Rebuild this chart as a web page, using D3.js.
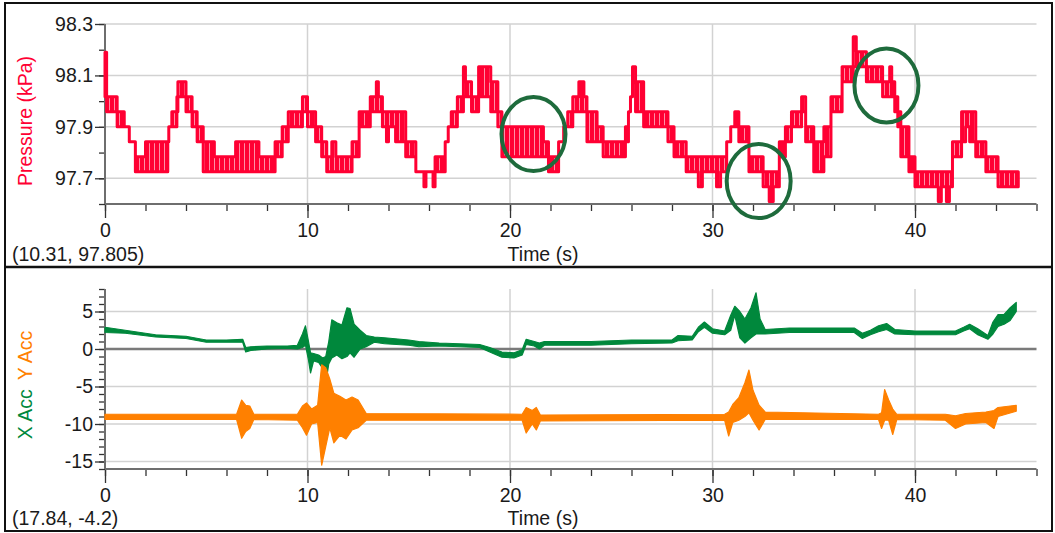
<!DOCTYPE html>
<html>
<head>
<meta charset="utf-8">
<script src="https://cdn.jsdelivr.net/npm/d3@7"></script>
<style>
  body { margin: 0; background: #fff; }
  svg { display: block; font-family: "Liberation Sans", Arial, sans-serif; }
</style>
</head>
<body>
<script>
// tick labels
let timeTicks = [0, 10, 20, 30, 40];
let pressureTicks = [97.7, 97.9, 98.1, 98.3];
let accTicks = [-15, -10, -5, 0, 5];

// pressure (kPa), envelope of the jittering trace, value held until next time
let pressureTime = [0.00, 0.08, 0.60, 0.95, 1.20, 1.50, 2.00, 3.10, 3.15, 3.30, 3.55, 3.60, 4.00, 4.30, 4.55, 4.85, 5.40, 6.45, 7.60, 8.40,
  8.75, 9.05, 9.75, 10.00, 10.40, 10.70, 10.95, 11.20, 11.40, 12.20, 12.55, 13.10, 13.40, 13.50, 13.70, 13.90, 14.00, 14.35, 14.85, 15.35,
  15.75, 15.85, 16.20, 16.30, 16.80, 16.95, 17.10, 17.40, 17.70, 17.80, 18.10, 18.45, 19.05, 19.40, 19.60, 21.65, 21.90, 22.40, 22.65, 22.85,
  23.10, 23.40, 23.65, 23.80, 24.30, 24.60, 25.70, 25.85, 25.95, 26.05, 26.20, 26.60, 27.80, 28.10, 28.70, 29.30, 29.50, 30.20, 30.40, 30.70,
  30.90, 31.10, 31.30, 31.80, 32.50, 32.80, 33.00, 33.30, 33.60, 33.90, 34.40, 34.60, 35.00, 35.50, 35.85, 36.40, 36.95, 37.10, 37.60, 38.40,
  38.75, 38.85, 39.00, 39.15, 39.30, 39.70, 40.00, 41.15, 41.30, 41.55, 41.70, 41.85, 42.30, 42.50, 42.70, 43.00, 43.50, 44.10, 45.10];
let pressureLow = [98.017, 97.959, 97.900, 97.900, 97.842, 97.725, 97.725, 97.842, 97.900, 97.900, 97.959, 98.017, 97.959, 97.900, 97.842, 97.725, 97.725, 97.725, 97.725, 97.784,
  97.842, 97.900, 97.959, 97.900, 97.842, 97.784, 97.725, 97.725, 97.725, 97.784, 97.900, 97.959, 97.959, 97.959, 97.900, 97.842, 97.900, 97.842, 97.784, 97.725,
  97.667, 97.725, 97.667, 97.725, 97.842, 97.900, 97.900, 97.959, 98.017, 98.017, 97.959, 98.017, 97.959, 97.900, 97.784, 97.784, 97.725, 97.842, 97.900, 97.900,
  97.959, 97.959, 97.959, 97.842, 97.842, 97.784, 97.842, 97.959, 98.017, 98.075, 97.959, 97.900, 97.842, 97.784, 97.725, 97.667, 97.725, 97.667, 97.725, 97.842,
  97.900, 97.900, 97.842, 97.725, 97.667, 97.610, 97.667, 97.784, 97.842, 97.900, 97.959, 97.842, 97.725, 97.784, 97.959, 98.075, 98.134, 98.134, 98.075, 98.017,
  98.017, 98.017, 97.959, 97.900, 97.784, 97.725, 97.667, 97.610, 97.667, 97.610, 97.667, 97.784, 97.842, 97.900, 97.842, 97.784, 97.725, 97.667, 97.667];
let pressureHigh = [98.190, 98.017, 97.959, 97.900, 97.842, 97.784, 97.842, 97.842, 97.900, 97.959, 98.017, 98.075, 98.017, 97.959, 97.900, 97.842, 97.784, 97.842, 97.784, 97.842,
  97.900, 97.959, 98.017, 97.959, 97.900, 97.842, 97.784, 97.842, 97.784, 97.842, 97.959, 98.017, 98.075, 98.017, 97.959, 97.959, 97.959, 97.959, 97.842, 97.725,
  97.725, 97.725, 97.725, 97.784, 97.842, 97.900, 97.959, 98.017, 98.134, 98.075, 98.017, 98.134, 98.075, 97.959, 97.900, 97.842, 97.784, 97.842, 97.900, 97.959,
  98.017, 98.075, 98.017, 97.959, 97.900, 97.842, 97.900, 97.959, 98.017, 98.134, 98.075, 97.959, 97.900, 97.842, 97.784, 97.784, 97.784, 97.784, 97.784, 97.842,
  97.900, 97.959, 97.900, 97.784, 97.725, 97.725, 97.725, 97.842, 97.900, 97.959, 98.017, 97.900, 97.842, 97.900, 98.017, 98.134, 98.250, 98.192, 98.134, 98.075,
  98.134, 98.075, 98.017, 97.959, 97.900, 97.784, 97.725, 97.725, 97.725, 97.725, 97.725, 97.842, 97.959, 97.959, 97.959, 97.842, 97.784, 97.725, 97.725];

// X acceleration (m/s2), envelope
let accXTime = [0.0, 1.0, 2.5, 4.0, 5.0, 6.0, 6.8, 6.95, 7.2, 8.0, 9.0, 9.5, 9.75, 9.9, 10.05, 10.15, 10.3, 10.55, 10.75, 10.9,
  11.05, 11.2, 11.45, 11.7, 11.95, 12.1, 12.3, 12.6, 12.9, 13.3, 13.8, 15.0, 15.5, 16.5, 17.5, 18.5, 19.0, 19.6, 20.2, 20.6,
  20.8, 21.2, 21.45, 21.7, 24.0, 26.0, 28.0, 28.3, 29.0, 29.3, 29.6, 30.0, 30.6, 30.9, 31.1, 31.35, 31.6, 31.9, 32.15, 32.35,
  32.6, 33.8, 37.0, 37.4, 37.8, 38.2, 38.6, 39.0, 40.0, 42.0, 42.4, 42.7, 43.1, 43.6, 43.85, 44.1, 44.4, 44.7, 45.0];
let accXLow = [2.2, 2.1, 1.6, 1.4, 0.9, 0.9, 0.9, -0.4, -0.2, 0.0, 0.1, 0.0, 0.2, 0.5, -1.5, -3.2, -1.6, -1.8, -2.6, -4.6,
  -2.0, -1.2, -0.8, -1.3, -1.0, -0.5, -1.1, 0.0, 0.3, 0.9, 0.7, 0.5, 0.3, 0.4, 0.3, 0.2, -0.4, -1.1, -1.2, -0.8,
  0.6, 0.4, 0.0, 0.5, 0.5, 0.7, 0.8, 1.1, 1.2, 2.3, 2.9, 2.1, 1.9, 2.5, 4.5, 1.5, 0.8, 1.5, 2.0, 2.0,
  2.0, 2.2, 2.2, 1.4, 1.9, 2.3, 2.6, 2.0, 1.9, 1.9, 2.4, 2.7, 1.9, 1.3, 2.0, 3.0, 3.3, 3.8, 5.0];
let accXHigh = [2.9, 2.5, 1.9, 1.7, 1.2, 1.2, 1.3, 0.2, 0.3, 0.4, 0.4, 0.5, 2.0, 3.1, 1.0, -0.5, -0.6, -0.8, -1.2, -1.0,
  1.0, 3.9, 3.5, 3.2, 5.5, 5.4, 3.3, 2.5, 1.8, 1.6, 1.5, 1.2, 1.0, 0.8, 0.7, 0.6, 0.2, -0.4, -0.5, -0.1,
  1.3, 1.0, 0.8, 1.0, 1.0, 1.2, 1.2, 1.8, 1.7, 2.9, 3.6, 2.7, 2.4, 4.5, 5.7, 5.0, 4.0, 5.5, 7.5, 4.0,
  2.6, 2.8, 2.8, 2.1, 2.5, 3.1, 3.4, 2.6, 2.4, 2.4, 2.9, 3.3, 2.7, 1.8, 3.6, 4.6, 4.6, 5.5, 6.2];

// Y acceleration (m/s2), envelope
let accYTime = [0.0, 6.5, 6.75, 6.95, 7.15, 7.35, 9.5, 9.75, 9.95, 10.2, 10.5, 10.7, 10.9, 11.1, 11.3, 11.6, 11.9, 12.2, 12.5, 12.9,
  20.6, 20.8, 21.1, 21.3, 21.5, 30.6, 30.8, 31.0, 31.3, 31.6, 31.8, 32.0, 32.3, 32.6, 38.2, 38.35, 38.5, 38.7, 38.9, 39.1,
  41.5, 42.0, 42.5, 43.5, 43.9, 44.1, 45.0];
let accYLow = [-9.4, -9.4, -11.9, -11.0, -10.6, -9.4, -9.5, -10.5, -11.5, -10.0, -9.8, -15.5, -13.0, -10.5, -12.5, -11.5, -12.0, -10.8, -10.5, -9.5,
  -9.5, -11.2, -10.0, -10.8, -9.6, -9.5, -11.6, -9.8, -9.5, -9.0, -8.5, -9.5, -10.8, -9.4, -9.4, -10.6, -9.5, -9.5, -11.4, -9.4,
  -9.5, -10.6, -10.0, -9.8, -10.6, -9.0, -8.3];
let accYHigh = [-8.7, -8.7, -6.8, -7.5, -7.6, -8.7, -8.7, -7.6, -7.2, -8.0, -7.5, -2.1, -2.5, -4.0, -5.9, -6.3, -6.8, -6.4, -6.8, -8.6,
  -8.7, -7.8, -8.2, -7.8, -8.8, -8.7, -8.4, -7.4, -6.5, -4.5, -2.8, -5.5, -7.5, -8.4, -8.7, -8.5, -5.4, -6.8, -8.0, -8.7,
  -8.7, -8.9, -8.6, -8.4, -8.2, -7.8, -7.5];

// highlighted spots on the pressure trace
let circleTime = [21.16, 32.28, 38.59];
let circlePressure = [97.872, 97.689, 98.061];

let W = 1055;
let H = 533;
let svg = d3.select("body").append("svg").attr("width", W).attr("height", H);
let font = 19.5;
let colors = { p: "#ff0033", x: "#00883c", y: "#ff8000", ring: "#1e6b3c", grid: "#d2d2d2", axis: "#6e6e6e", text: "#1a1a1a" };

let scaleX = d3.scaleLinear().domain([0, 46]).range([105, 1036.5]);
let scaleP = d3.scaleLinear().domain([97.6, 98.3]).range([204, 24]);
let scaleA = d3.scaleLinear().domain([-16, 8]).range([469, 289]);

let toRows = (t, lo, hi) => t.map((d, i) => ({ t: d, lo: lo[i], hi: hi[i] }));

// faint vertical streaks give the jittery look of the pressure samples
let defs = svg.append("defs");
let stripes = defs.append("pattern").attr("id", "stripeP")
  .attr("patternUnits", "userSpaceOnUse")
  .attr("width", 5).attr("height", 10);
stripes.append("rect").attr("width", 5).attr("height", 10).attr("fill", "#ff8fa6");
stripes.append("rect").attr("width", 4).attr("height", 10).attr("fill", colors.p);

let DrawFrame = () =>
{
  svg.append("rect")
    .attr("x", 5).attr("y", 3).attr("width", 1047).attr("height", 528)
    .attr("fill", "none").attr("stroke", "#111").attr("stroke-width", 2);
  svg.append("line")
    .attr("x1", 5).attr("x2", 1052).attr("y1", 267).attr("y2", 267)
    .attr("stroke", "#111").attr("stroke-width", 2.5);
}

let DrawGrid = (yScale, yTicks) =>
{
  let g = svg.append("g");
  let [y0, y1] = yScale.range();
  g.selectAll(".vg").data(timeTicks.filter(d => d > 0)).enter().append("line")
    .attr("x1", d => scaleX(d)).attr("x2", d => scaleX(d))
    .attr("y1", y1).attr("y2", y0)
    .attr("stroke", colors.grid).attr("stroke-width", 1.5);
  g.selectAll(".hg").data(yTicks).enter().append("line")
    .attr("x1", scaleX.range()[0]).attr("x2", scaleX.range()[1])
    .attr("y1", d => yScale(d)).attr("y2", d => yScale(d))
    .attr("stroke", d => d == 0 ? "#7a7a7a" : colors.grid)
    .attr("stroke-width", d => d == 0 ? 2.5 : 1.5);
}

let DrawAxes = (yScale, yMajor, yMinor, fmt) =>
{
  let bottom = yScale.range()[0];
  let left = scaleX.range()[0];
  let styleAxis = (g) =>
  {
    g.select(".domain").remove();
    g.selectAll(".tick line").attr("stroke", "#333").attr("stroke-width", 1.3);
    g.selectAll("text").attr("fill", colors.text).attr("font-size", font)
      .attr("font-family", "'Liberation Sans', Arial, sans-serif");
  }
  svg.append("g").attr("transform", "translate(0," + bottom + ")")
    .call(d3.axisBottom(scaleX).tickValues(d3.range(0, 47, 2)).tickSize(7).tickFormat(""))
    .call(styleAxis);
  svg.append("g").attr("transform", "translate(0," + bottom + ")")
    .call(d3.axisBottom(scaleX).tickValues(timeTicks).tickSize(14).tickPadding(5).tickFormat(d3.format("d")))
    .call(styleAxis);
  svg.append("g").attr("transform", "translate(" + left + ",0)")
    .call(d3.axisLeft(yScale).tickValues(yMinor).tickSize(6).tickFormat(""))
    .call(styleAxis);
  svg.append("g").attr("transform", "translate(" + left + ",0)")
    .call(d3.axisLeft(yScale).tickValues(yMajor).tickSize(10).tickPadding(2).tickFormat(fmt))
    .call(styleAxis);
  // axis lines
  svg.append("line").attr("x1", left).attr("x2", scaleX.range()[1]).attr("y1", bottom).attr("y2", bottom)
    .attr("stroke", colors.axis).attr("stroke-width", 2);
  svg.append("line").attr("x1", left).attr("x2", left).attr("y1", yScale.range()[1]).attr("y2", bottom)
    .attr("stroke", colors.axis).attr("stroke-width", 2);
}

let DrawBand = (rows, yScale, color, fill, curve, width) =>
{
  let area = d3.area()
    .x(d => scaleX(d.t))
    .y0(d => yScale(d.lo))
    .y1(d => yScale(d.hi))
    .curve(curve);
  svg.append("path").datum(rows)
    .attr("d", area)
    .attr("fill", fill)
    .attr("stroke", color)
    .attr("stroke-width", width)
    .attr("stroke-linejoin", "round");
}

let DrawText = () =>
{
  let t = (txt, x, y, anchor, color) => svg.append("text").text(txt)
    .attr("x", x).attr("y", y).attr("text-anchor", anchor)
    .attr("font-size", font).attr("fill", color || colors.text);
  t("Time (s)", 543, 261, "middle");
  t("Time (s)", 543, 525, "middle");
  t("(10.31, 97.805)", 12, 261, "start");
  t("(17.84, -4.2)", 12, 525, "start");
  svg.append("text").text("Pressure (kPa)")
    .attr("transform", "translate(32,121) rotate(-90)")
    .attr("text-anchor", "middle").attr("font-size", font).attr("fill", colors.p);
  let lab = svg.append("text")
    .attr("transform", "translate(32,385) rotate(-90)")
    .attr("text-anchor", "middle").attr("font-size", font);
  lab.append("tspan").text("X Acc").attr("fill", colors.x);
  lab.append("tspan").text("Y Acc").attr("dx", 9).attr("fill", colors.y);
}

let DrawRings = () =>
{
  svg.append("g").selectAll("ellipse")
    .data(circleTime.map((d, i) => ({ t: d, v: circlePressure[i] })))
    .enter().append("ellipse")
    .attr("cx", d => scaleX(d.t))
    .attr("cy", d => scaleP(d.v))
    .attr("rx", 32).attr("ry", 37)
    .attr("fill", "none")
    .attr("stroke", colors.ring)
    .attr("stroke-width", 4);
}

DrawFrame();
DrawGrid(scaleP, pressureTicks);
DrawGrid(scaleA, accTicks);
DrawAxes(scaleP, pressureTicks, d3.range(97.6, 98.31, 0.1), d3.format(".1f"));
DrawAxes(scaleA, accTicks, d3.range(-16, 9, 1), d => String(d));
DrawBand(toRows(pressureTime, pressureLow, pressureHigh), scaleP, colors.p, "url(#stripeP)", d3.curveStepAfter, 3);
DrawBand(toRows(accXTime, accXLow, accXHigh), scaleA, colors.x, colors.x, d3.curveLinear, 1.2);
DrawBand(toRows(accYTime, accYLow, accYHigh), scaleA, colors.y, colors.y, d3.curveLinear, 1.2);
DrawRings();
DrawText();
</script>
</body>
</html>
